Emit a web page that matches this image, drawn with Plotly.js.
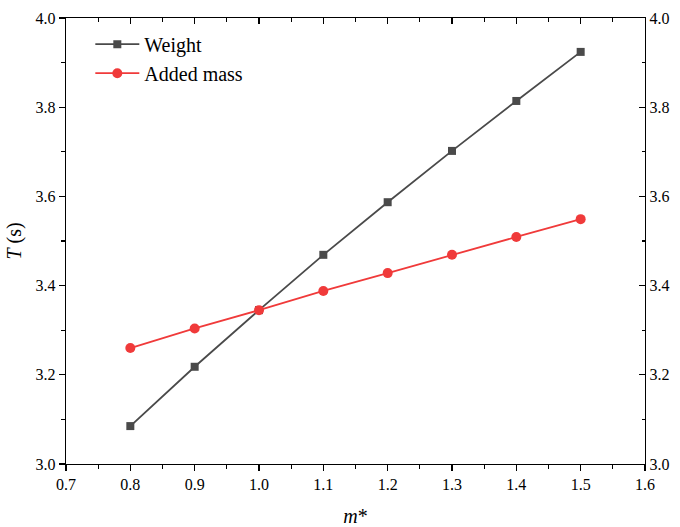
<!DOCTYPE html>
<html>
<head>
<meta charset="utf-8">
<script src="https://cdn.plot.ly/plotly-3.0.1.min.js"></script>
<style>html,body{margin:0;padding:0;background:#fff}#chart{width:680px;height:527px}</style>
</head>
<body>
<div id="chart"></div>
<script>
const mStar = [0.8, 0.9, 1.0, 1.1, 1.2, 1.3, 1.4, 1.5];
const weightT = [3.085, 3.218, 3.345, 3.469, 3.587, 3.702, 3.814, 3.924];
const addedMassT = [3.260, 3.304, 3.345, 3.388, 3.428, 3.469, 3.509, 3.549];
const seriesNames = ["Weight", "Added mass"];

const font = {family: "Times New Roman, Liberation Serif, Tinos, serif", color: "#000"};

const traces = [
  {x: mStar, y: weightT, name: seriesNames[0], type: "scatter", mode: "lines+markers",
   line: {color: "#4a4a4a", width: 1.8}, marker: {symbol: "square", size: 8, color: "#4a4a4a"}},
  {x: mStar, y: addedMassT, name: seriesNames[1], type: "scatter", mode: "lines+markers",
   line: {color: "#f03a3a", width: 1.8}, marker: {symbol: "circle", size: 10, color: "#f03a3a"}}
];

const layout = {
  width: 680, height: 527,
  margin: {l: 66, r: 35, t: 18, b: 63},
  paper_bgcolor: "#fff", plot_bgcolor: "#fff",
  font: Object.assign({size: 16}, font),
  showlegend: true,
  legend: {x: 0.042, y: 0.985, xanchor: "left", yanchor: "top", bgcolor: "rgba(0,0,0,0)",
           font: Object.assign({size: 20}, font), itemwidth: 44, tracegroupgap: 0},
  xaxis: {range: [0.7, 1.6], dtick: 0.1, tick0: 0.7, tickformat: ".1f",
          showgrid: false, zeroline: false, showline: true, linecolor: "#000", linewidth: 1.2,
          ticks: "outside", ticklen: 6, tickwidth: 1.2, tickcolor: "#000",
          minor: {ticks: "outside", ticklen: 3.5, dtick: 0.05, tickcolor: "#000", tickwidth: 1.2, showgrid: false},
          title: {text: "<i>m</i>*", font: Object.assign({size: 20}, font), standoff: 16}},
  xaxis2: {range: [0.7, 1.6], dtick: 0.1, tick0: 0.7, overlaying: "x", side: "top", matches: "x",
           showgrid: false, zeroline: false, showline: true, linecolor: "#000", linewidth: 1.2,
           ticks: "inside", ticklen: 6, tickwidth: 1.2, tickcolor: "#000", showticklabels: false,
           minor: {ticks: "inside", ticklen: 3.5, dtick: 0.05, tickcolor: "#000", tickwidth: 1.2}},
  yaxis: {range: [3.0, 4.0], dtick: 0.2, tick0: 3.0, tickformat: ".1f",
          showgrid: false, zeroline: false, showline: true, linecolor: "#000", linewidth: 1.2,
          ticks: "outside", ticklen: 6, tickwidth: 1.2, tickcolor: "#000",
          minor: {ticks: "outside", ticklen: 3.5, dtick: 0.1, tickcolor: "#000", tickwidth: 1.2, showgrid: false},
          title: {text: "<i>T</i> (s)", font: Object.assign({size: 20}, font), standoff: 8}},
  yaxis2: {range: [3.0, 4.0], dtick: 0.2, tick0: 3.0, tickformat: ".1f", overlaying: "y", side: "right",
           showgrid: false, zeroline: false, showline: true, linecolor: "#000", linewidth: 1.2,
           ticks: "inside", ticklen: 6, tickwidth: 1.2, tickcolor: "#000", showticklabels: true,
           minor: {ticks: "inside", ticklen: 3.5, dtick: 0.1, tickcolor: "#000", tickwidth: 1.2}}
};

// invisible trace to activate the mirror axes
traces.push({x: [0.7], y: [3.0], xaxis: "x2", yaxis: "y2", mode: "markers",
             marker: {opacity: 0}, showlegend: false, hoverinfo: "skip"});

Plotly.newPlot("chart", traces, layout, {displayModeBar: false, staticPlot: true});
</script>
</body>
</html>
